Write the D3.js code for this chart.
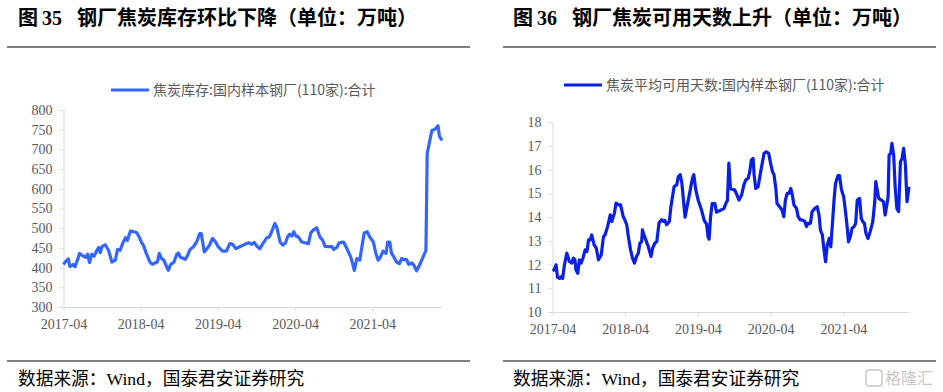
<!DOCTYPE html>
<html>
<head>
<meta charset="utf-8">
<script src="https://cdn.jsdelivr.net/npm/d3@7"></script>
<style>
  body { margin: 0; background: #fff; }
  svg { display: block; }
</style>
</head>
<body>
<div id="chart-container"></div>
<script>
// 焦炭库存:国内样本钢厂(110家):合计 (万吨)
const invDates = [
  "2017-04-01","2017-04-12","2017-04-24","2017-05-01","2017-05-10","2017-05-17","2017-05-25","2017-06-06","2017-06-16","2017-07-01",
  "2017-07-16","2017-07-24","2017-08-02","2017-08-13","2017-08-24","2017-09-06","2017-09-14","2017-09-22","2017-09-30","2017-10-15",
  "2017-10-31","2017-11-16","2017-12-02","2017-12-13","2017-12-25","2018-01-08","2018-01-20","2018-01-28","2018-02-12","2018-02-27",
  "2018-03-13","2018-03-25","2018-04-06","2018-04-15","2018-04-29","2018-05-15","2018-05-27","2018-06-08","2018-06-19","2018-06-28",
  "2018-07-09","2018-07-20","2018-08-02","2018-08-10","2018-08-21","2018-09-06","2018-09-19","2018-09-27","2018-10-05","2018-10-20",
  "2018-10-29","2018-11-09","2018-11-21","2018-12-07","2018-12-22","2019-01-05","2019-01-13","2019-01-27","2019-02-09","2019-02-21",
  "2019-03-07","2019-03-18","2019-04-03","2019-04-23","2019-05-12","2019-05-28","2019-06-10","2019-06-26","2019-07-14","2019-07-30",
  "2019-08-15","2019-08-28","2019-09-09","2019-09-20","2019-10-02","2019-10-17","2019-11-03","2019-11-19","2019-12-01","2019-12-12",
  "2019-12-27","2020-01-05","2020-01-21","2020-02-03","2020-02-16","2020-02-25","2020-03-07","2020-03-17","2020-03-26","2020-04-05",
  "2020-04-16","2020-05-02","2020-05-17","2020-06-03","2020-06-14","2020-06-26","2020-07-12","2020-07-27","2020-08-10","2020-08-20",
  "2020-09-06","2020-09-22","2020-09-30","2020-10-15","2020-10-27","2020-11-16","2020-11-28","2020-12-09","2020-12-20","2020-12-29",
  "2021-01-06","2021-01-18","2021-02-01","2021-02-11","2021-02-22","2021-03-08","2021-03-20","2021-04-06","2021-04-18","2021-04-29",
  "2021-05-10","2021-05-22","2021-06-05","2021-06-13","2021-06-23","2021-07-01","2021-07-12","2021-07-25","2021-08-07","2021-08-18",
  "2021-08-29","2021-09-11","2021-09-20","2021-10-05","2021-10-15","2021-10-28","2021-11-10","2021-11-21","2021-12-11","2021-12-17",
  "2022-01-08","2022-01-23","2022-02-06","2022-02-13","2022-02-25"
];
const invValues = [
  408,416,422,403,405,408,402,419,436,430,
  426,434,413,434,429,444,451,438,453,458,
  444,414,419,446,444,464,476,469,493,491,
  489,478,463,456,434,414,408,412,414,436,
  423,419,402,393,408,414,434,437,427,423,
  421,431,446,453,465,486,486,440,448,457,
  474,468,453,442,442,461,459,448,453,457,
  461,463,459,464,455,448,463,476,478,491,
  512,503,465,457,463,478,485,480,491,480,
  478,465,463,461,488,495,501,478,469,454,
  453,453,446,451,463,465,453,440,427,410,
  393,423,419,453,488,491,478,465,436,419,
  427,442,436,465,465,436,427,414,410,423,
  420,420,408,412,406,392,406,419,444,690,
  748,751,760,733,723
];

// 焦炭平均可用天数:国内样本钢厂(110家):合计 (天)
const dayDates = [
  "2017-04-01","2017-04-09","2017-04-19","2017-04-26","2017-05-06","2017-05-14","2017-05-22","2017-05-31","2017-06-12","2017-06-25",
  "2017-07-07","2017-07-15","2017-07-23","2017-07-28","2017-08-06","2017-08-14","2017-08-23","2017-09-01","2017-09-12","2017-09-21",
  "2017-09-29","2017-10-07","2017-10-15","2017-10-27","2017-11-07","2017-11-18","2017-12-02","2017-12-13","2017-12-21","2018-01-03",
  "2018-01-16","2018-01-24","2018-02-06","2018-02-14","2018-02-27","2018-03-09","2018-03-22","2018-03-30","2018-04-09","2018-04-17",
  "2018-04-28","2018-05-08","2018-05-18","2018-05-28","2018-06-06","2018-06-14","2018-06-23","2018-06-27","2018-07-04","2018-07-14",
  "2018-07-26","2018-08-09","2018-08-17","2018-08-28","2018-09-07","2018-09-18","2018-10-01","2018-10-10","2018-10-18","2018-10-26",
  "2018-11-09","2018-11-17","2018-12-03","2018-12-16","2018-12-24","2019-01-03","2019-01-11","2019-01-19","2019-01-27","2019-02-09",
  "2019-02-22","2019-03-05","2019-03-12","2019-03-22","2019-04-03","2019-04-20","2019-05-03","2019-05-15","2019-05-23","2019-05-28",
  "2019-06-04","2019-06-12","2019-06-26","2019-07-04","2019-07-24","2019-08-10","2019-08-23","2019-08-28","2019-09-04","2019-09-12",
  "2019-10-04","2019-10-15","2019-10-25","2019-11-07","2019-11-18","2019-11-28","2019-12-10","2019-12-18","2019-12-26","2020-01-04",
  "2020-01-09","2020-01-17","2020-01-29","2020-02-11","2020-02-20","2020-02-28","2020-03-10","2020-03-22","2020-03-30","2020-04-10",
  "2020-04-18","2020-04-27","2020-05-03","2020-05-16","2020-05-28","2020-06-06","2020-06-14","2020-06-23","2020-07-02","2020-07-11",
  "2020-07-19","2020-07-27","2020-08-09","2020-08-17","2020-08-28","2020-09-08","2020-09-20","2020-09-28","2020-10-06","2020-10-18",
  "2020-10-26","2020-11-09","2020-11-21","2020-11-30","2020-12-07","2020-12-17","2020-12-24","2021-01-02","2021-01-10","2021-01-20",
  "2021-01-28","2021-02-06","2021-02-14","2021-02-21","2021-03-05","2021-03-13","2021-03-23","2021-04-03","2021-04-12","2021-04-21",
  "2021-04-27","2021-05-06","2021-05-15","2021-05-25","2021-06-02","2021-06-10","2021-06-22","2021-06-30","2021-07-08","2021-07-16",
  "2021-07-24","2021-08-03","2021-08-14","2021-08-27","2021-09-06","2021-09-11","2021-09-17","2021-09-26","2021-10-09","2021-10-20",
  "2021-10-28","2021-11-07","2021-11-12","2021-11-17","2021-11-25","2021-12-01","2021-12-10","2021-12-18","2021-12-26","2022-01-04",
  "2022-01-13","2022-01-21","2022-01-29","2022-02-07","2022-02-15","2022-02-25"
];
const dayValues = [
  11.75,11.77,11.99,11.46,11.42,11.49,11.42,11.99,12.48,12.13,
  12.06,12.27,12.20,11.77,11.63,12.20,12.06,12.27,12.62,12.55,
  13.04,13.04,13.25,12.83,12.69,12.20,12.41,13.18,13.25,13.61,
  14.10,13.82,14.17,14.59,14.52,14.52,14.03,13.89,13.68,13.18,
  12.62,12.27,12.06,12.34,12.48,12.90,12.97,13.46,13.25,13.04,
  12.76,12.34,12.69,12.90,12.97,13.75,13.89,13.82,13.86,13.68,
  13.82,14.45,15.29,15.36,15.71,15.79,15.43,14.71,14.00,14.57,
  15.14,15.64,15.79,15.14,14.71,14.29,13.86,13.71,13.14,13.07,
  14.00,14.57,14.57,14.21,14.29,14.36,14.64,14.70,16.28,15.20,
  15.14,14.93,14.72,14.93,15.35,15.57,15.64,15.92,16.41,16.48,
  15.78,15.21,15.28,15.92,16.34,16.69,16.76,16.69,16.34,15.92,
  15.78,15.21,14.58,14.44,14.30,14.02,14.72,15.00,15.00,15.21,
  14.93,14.51,14.37,14.02,13.88,13.88,13.81,13.60,13.74,13.74,
  14.23,14.37,14.44,14.09,13.46,13.24,12.68,12.12,12.82,13.10,
  12.75,13.81,14.79,15.42,15.75,15.75,15.14,14.86,14.23,13.53,
  12.96,13.17,13.53,13.60,13.74,14.72,14.79,13.95,13.81,13.74,
  13.31,13.10,13.39,13.81,14.65,15.50,15.21,14.79,14.72,14.65,
  14.09,14.58,14.86,16.62,16.69,17.11,16.62,15.21,14.37,14.23,
  16.34,16.48,16.90,16.20,14.65,15.28
];

const xTickDates = ["2017-04-01","2018-04-01","2019-04-01","2020-04-01","2021-04-01"];
const invTicks = [300,350,400,450,500,550,600,650,700,750,800];
const dayTicks = [10,11,12,13,14,15,16,17,18];

const parse = d3.timeParse("%Y-%m-%d");
const serif = "'Liberation Serif', 'Times New Roman', serif";
const cjk = "'Noto Sans CJK SC', 'Noto Sans', sans-serif";

const svg = d3.select("#chart-container")
  .append("svg")
  .attr("width", 943)
  .attr("height", 392);

function drawPanel(p) {
  const data = p.dates.map((d, i) => ({ date: parse(d), value: p.values[i] }));

  //Set up the x and y scales
  const x = d3.scaleTime()
    .domain(d3.extent(data, (d) => d.date))
    .range([p.left, p.right]);
  const y = d3.scaleLinear()
    .domain([p.ticks[0], p.ticks[p.ticks.length - 1]])
    .range([p.bottom, p.top]);

  //Title
  const title = svg.append("text")
    .attr("y", 25)
    .style("font-family", cjk)
    .style("font-weight", "bold")
    .style("font-size", "20px")
    .attr("fill", "#000");
  title.append("tspan").attr("x", p.titleX).text("图");
  title.append("tspan").attr("x", p.titleX + 24)
    .style("font-family", serif).text(p.num);
  title.append("tspan").attr("x", p.titleX + 59).text(p.title);

  //Rules above and below
  svg.append("line")
    .attr("x1", p.ruleX1).attr("x2", p.ruleX2)
    .attr("y1", 47).attr("y2", 47)
    .attr("stroke", "#000").attr("stroke-width", 1);
  svg.append("line")
    .attr("x1", p.ruleX1).attr("x2", p.ruleX2)
    .attr("y1", 361).attr("y2", 361)
    .attr("stroke", "#000").attr("stroke-width", 1);

  //Source note
  const src = svg.append("text")
    .attr("x", p.titleX)
    .attr("y", 385)
    .style("font-family", cjk)
    .style("font-size", "17.7px")
    .attr("fill", "#000");
  src.append("tspan").text("数据来源：");
  src.append("tspan").style("font-family", serif).text("Wind");
  src.append("tspan").text("，国泰君安证券研究");

  //Legend
  svg.append("line")
    .attr("x1", p.legendX).attr("x2", p.legendX + 38)
    .attr("y1", p.legendY).attr("y2", p.legendY)
    .attr("stroke", p.color).attr("stroke-width", 3);
  svg.append("text")
    .attr("x", p.legendX + 42)
    .attr("y", p.legendY + 5)
    .style("font-family", cjk)
    .style("font-size", "14px")
    .attr("fill", "#595959")
    .text(p.legend);

  //Add the x-axis
  const gx = svg.append("g")
    .attr("transform", `translate(0, ${p.bottom})`)
    .call(d3.axisBottom(x)
      .tickValues(xTickDates.map(parse))
      .tickFormat(d3.timeFormat("%Y-%m"))
      .tickSize(4)
      .tickSizeOuter(0));
  gx.select(".domain").attr("stroke", "#d9d9d9");
  gx.selectAll(".tick line").attr("stroke", "#d9d9d9");
  gx.selectAll(".tick text")
    .attr("dy", "1.1em")
    .style("font-family", serif)
    .style("font-size", "14px")
    .attr("fill", "#595959");

  //Add the y-axis
  const gy = svg.append("g")
    .attr("transform", `translate(${p.left}, 0)`)
    .call(d3.axisLeft(y)
      .tickValues(p.ticks)
      .tickSize(4)
      .tickPadding(7)
      .tickSizeOuter(0));
  gy.select(".domain").attr("stroke", "#d9d9d9");
  gy.selectAll(".tick line").attr("stroke", "#d9d9d9");
  gy.selectAll(".tick text")
    .style("font-family", serif)
    .style("font-size", "14px")
    .attr("fill", "#595959");

  //Line
  const line = d3.line()
    .x((d) => x(d.date))
    .y((d) => y(d.value));

  svg.append("path")
    .datum(data)
    .attr("fill", "none")
    .attr("stroke", p.color)
    .attr("stroke-width", 3.2)
    .attr("stroke-linejoin", "round")
    .attr("d", line);
}

drawPanel({
  dates: invDates, values: invValues, ticks: invTicks,
  left: 63.5, right: 442, top: 110, bottom: 307,
  color: "#3366ff",
  num: "35", title: "钢厂焦炭库存环比下降（单位：万吨）", titleX: 18,
  ruleX1: 7, ruleX2: 470,
  legendX: 111, legendY: 90,
  legend: "焦炭库存:国内样本钢厂(110家):合计",
});

drawPanel({
  dates: dayDates, values: dayValues, ticks: dayTicks,
  left: 552.5, right: 909, top: 122.3, bottom: 312,
  color: "#0a1fe6",
  num: "36", title: "钢厂焦炭可用天数上升（单位：万吨）", titleX: 513,
  ruleX1: 503, ruleX2: 936,
  legendX: 564, legendY: 85,
  legend: "焦炭平均可用天数:国内样本钢厂(110家):合计",
});

//Watermark
svg.append("rect")
  .attr("x", 866).attr("y", 370)
  .attr("width", 16).attr("height", 16)
  .attr("rx", 3)
  .attr("fill", "none")
  .attr("stroke", "#c8c8c8")
  .attr("stroke-width", 1.5);
svg.append("text")
  .attr("x", 885).attr("y", 384)
  .style("font-family", cjk)
  .style("font-size", "16px")
  .attr("fill", "#c8c8c8")
  .text("格隆汇");
</script>
</body>
</html>
